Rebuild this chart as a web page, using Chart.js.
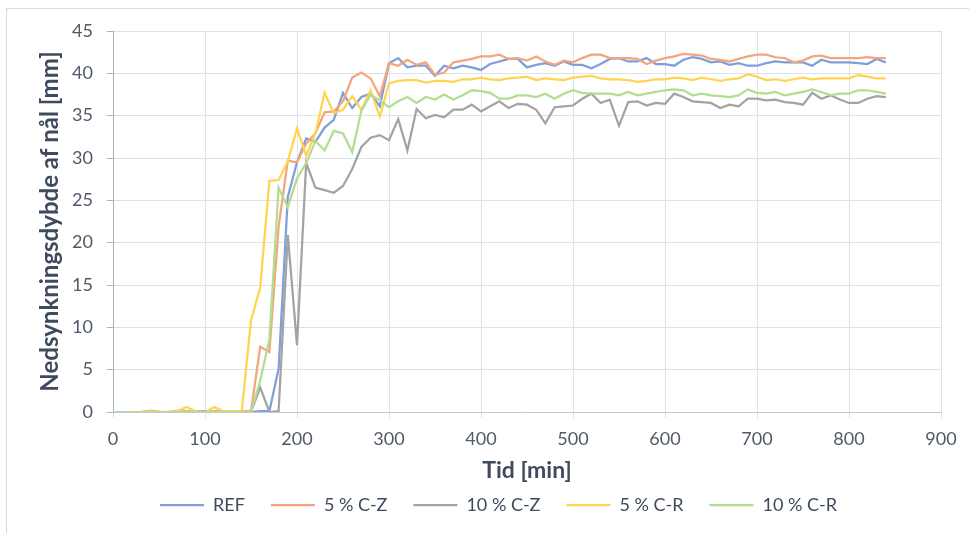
<!DOCTYPE html>
<html lang="da">
<head>
<meta charset="utf-8">
<title>Nedsynkningsdybde</title>
<script src="https://cdn.jsdelivr.net/npm/chart.js@4.4.1/dist/chart.umd.min.js"></script>
<style>
  html, body { margin: 0; padding: 0; background: #fff; overflow: hidden; }
  #wrap { position: relative; width: 969px; height: 533px; }
  #frame {
    position: absolute; left: 6px; top: 8px; width: 1200px; height: 800px;
    border: 1px solid #d9d9d9; pointer-events: none;
  }
  canvas { position: absolute; left: 0; top: 0; }
</style>
</head>
<body>
<div id="wrap">
  <div id="frame"></div>
  <canvas id="chart" width="969" height="533"></canvas>
</div>
<script>
// Tid [min]
const time = [
  0, 10, 20, 30, 40, 50, 60, 70, 80, 90, 100, 110, 120, 130, 140,
  150, 160, 170, 180, 190, 200, 210, 220, 230, 240,
  250, 260, 270, 280, 290, 300, 310, 320, 330, 340,
  350, 360, 370, 380, 390, 400, 410, 420, 430, 440,
  450, 460, 470, 480, 490, 500, 510, 520, 530, 540,
  550, 560, 570, 580, 590, 600, 610, 620, 630, 640,
  650, 660, 670, 680, 690, 700, 710, 720, 730, 740,
  750, 760, 770, 780, 790, 800, 810, 820, 830, 840
];

// Nedsynkningsdybde [mm] per blanding
const ref = [
  0, 0, 0, 0, 0, 0, 0, 0, 0, 0.1, 0.1, 0, 0, 0, 0,
  0, 0.1, 0.1, 5.1, 25.4, 29.5, 32.3, 31.9, 33.6, 34.5,
  37.7, 35.9, 37.2, 37.6, 36.1, 41.2, 41.8, 40.7, 40.9, 40.9,
  39.7, 40.9, 40.6, 40.9, 40.7, 40.4, 41.1, 41.4, 41.7, 41.7,
  40.7, 41.0, 41.2, 40.9, 41.4, 41.0, 41.0, 40.6, 41.1, 41.7,
  41.8, 41.4, 41.4, 41.8, 41.1, 41.1, 40.9, 41.6, 41.9, 41.7,
  41.3, 41.4, 41.0, 41.2, 40.9, 40.9, 41.2, 41.4, 41.3, 41.3,
  41.3, 40.9, 41.6, 41.3, 41.3, 41.3, 41.2, 41.1, 41.7, 41.3
];
const cz5 = [
  0, 0, 0, 0, 0.15, 0.05, 0, 0.15, 0.1, 0, 0, 0.1, 0.1, 0.1, 0.1,
  0.1, 7.7, 7.1, 21.9, 29.7, 29.5, 31.7, 32.9, 35.4, 35.5,
  36.7, 39.5, 40.1, 39.4, 37.3, 41.2, 40.9, 41.6, 41.0, 41.3,
  39.8, 40.1, 41.3, 41.5, 41.7, 42.0, 42.0, 42.2, 41.7, 41.8,
  41.5, 42.0, 41.4, 41.0, 41.5, 41.3, 41.8, 42.2, 42.2, 41.8,
  41.8, 41.8, 41.7, 41.1, 41.5, 41.8, 42.0, 42.3, 42.2, 42.1,
  41.7, 41.6, 41.4, 41.7, 42.0, 42.2, 42.2, 41.9, 41.8, 41.3,
  41.5, 42.0, 42.1, 41.8, 41.8, 41.8, 41.8, 41.9, 41.8, 41.8
];
const cz10 = [
  0, 0, 0, 0, 0, 0, 0, 0, 0, 0, 0, 0, 0, 0, 0,
  0, 2.9, 0, 0.1, 20.9, 7.9, 29.4, 26.5, 26.2, 25.9,
  26.7, 28.7, 31.3, 32.4, 32.7, 32.1, 34.6, 30.9, 35.8, 34.7,
  35.1, 34.8, 35.7, 35.7, 36.3, 35.5, 36.1, 36.7, 35.9, 36.4,
  36.3, 35.7, 34.1, 36.0, 36.1, 36.2, 37.0, 37.6, 36.5, 36.9,
  33.8, 36.6, 36.7, 36.2, 36.5, 36.4, 37.6, 37.2, 36.7, 36.6,
  36.5, 35.9, 36.3, 36.1, 37.0, 37.0, 36.8, 36.9, 36.6, 36.5,
  36.3, 37.7, 37.0, 37.4, 36.9, 36.5, 36.5, 37.0, 37.3, 37.2
];
const cr5 = [
  0, 0, 0, 0, 0.1, 0, 0, 0.1, 0.6, 0.1, 0, 0.6, 0.1, 0.1, 0.1,
  10.8, 14.7, 27.3, 27.4, 29.6, 33.5, 30.3, 32.9, 37.7, 35.3,
  35.7, 37.3, 35.7, 38.0, 34.9, 38.8, 39.1, 39.2, 39.2, 38.9,
  39.1, 39.1, 39.0, 39.3, 39.3, 39.5, 39.3, 39.2, 39.4, 39.5,
  39.6, 39.2, 39.4, 39.3, 39.2, 39.5, 39.6, 39.7, 39.4, 39.3,
  39.3, 39.2, 39.0, 39.1, 39.3, 39.3, 39.5, 39.4, 39.2, 39.5,
  39.3, 39.1, 39.3, 39.4, 39.9, 39.6, 39.2, 39.3, 39.1, 39.3,
  39.5, 39.3, 39.4, 39.4, 39.4, 39.4, 39.8, 39.6, 39.4, 39.4
];
const cr10 = [
  0, 0, 0, 0, 0, 0, 0, 0, 0, 0, 0, 0, 0, 0, 0,
  0, 3.7, 8.6, 26.5, 24.2, 27.6, 29.4, 32.0, 30.9, 33.2,
  32.9, 30.7, 35.6, 37.5, 36.8, 36.0, 36.7, 37.2, 36.5, 37.2,
  36.9, 37.5, 36.9, 37.4, 38.0, 37.9, 37.7, 37.0, 37.0, 37.4,
  37.4, 37.2, 37.6, 37.0, 37.6, 38.0, 37.7, 37.6, 37.6, 37.6,
  37.4, 37.8, 37.4, 37.6, 37.8, 38.0, 38.1, 38.0, 37.4, 37.6,
  37.4, 37.3, 37.2, 37.4, 38.1, 37.7, 37.6, 37.8, 37.4, 37.6,
  37.8, 38.1, 37.8, 37.4, 37.6, 37.6, 38.0, 38.0, 37.8, 37.6
];

const seriesNames = ['REF', '5 % C-Z', '10 % C-Z', '5 % C-R', '10 % C-R'];
const seriesValues = [ref, cz5, cz10, cr5, cr10];
const seriesColors = ['#7f9fdb', '#f4a57c', '#a3a3a3', '#ffd450', '#b4dd8e'];

const FONT = 'Lato, "Open Sans", sans-serif';
const TICK_COLOR = '#505a68';
const TITLE_COLOR = '#3f4b5c';
const GRID_COLOR = '#dde1e8';

const toPoints = values => time.map((t, i) => ({ x: t, y: values[i] }));

const datasets = seriesNames.map((name, i) => ({
    label: name,
    data: toPoints(seriesValues[i]),
    borderColor: seriesColors[i],
    backgroundColor: seriesColors[i],
    borderWidth: 2.25,
    pointRadius: 0,
    tension: 0,
    fill: false,
    // later series are painted on top
    order: seriesNames.length - i
}));

new Chart(document.getElementById('chart'), {
    type: 'line',
    data: { datasets },
    options: {
        responsive: false,
        animation: false,
        layout: { padding: { left: 28, top: 31, right: 0, bottom: 9 } },
        plugins: {
            tooltip: { enabled: false },
            legend: {
                position: 'bottom',
                labels: {
                    usePointStyle: true,
                    pointStyle: 'line',
                    pointStyleWidth: 44,
                    padding: 26,
                    color: TITLE_COLOR,
                    font: { family: FONT, size: 18 },
                    sort: (a, b) => a.datasetIndex - b.datasetIndex
                }
            }
        },
        scales: {
            x: {
                type: 'linear',
                min: 0,
                max: 900,
                ticks: { stepSize: 100, padding: 10, color: TICK_COLOR, font: { family: FONT, size: 18 } },
                grid: { color: GRID_COLOR, tickLength: 6, tickColor: GRID_COLOR },
                border: { color: '#c3cad6' },
                title: {
                    display: true,
                    text: 'Tid [min]',
                    color: TITLE_COLOR,
                    font: { family: FONT, size: 23, weight: 'bold' },
                    padding: { top: 0, bottom: -14 }
                },
                afterFit: scale => { scale.height = 58; }
            },
            y: {
                min: 0,
                max: 45,
                ticks: { stepSize: 5, padding: 14, color: TICK_COLOR, font: { family: FONT, size: 18 } },
                grid: { color: GRID_COLOR, tickLength: 6, tickColor: '#a9b3c3' },
                border: { color: '#a9b3c3' },
                title: {
                    display: true,
                    text: 'Nedsynkningsdybde af nål [mm]',
                    color: TITLE_COLOR,
                    font: { family: FONT, size: 24, weight: 'bold' },
                    padding: { top: 8, bottom: 0 }
                },
                afterFit: scale => { scale.width = 85; }
            },
            // empty strip on the right so the legend centres on the full chart width
            yRight: {
                position: 'right',
                ticks: { display: false },
                grid: { display: false, drawTicks: false },
                border: { display: false },
                afterFit: scale => { scale.width = 28; }
            }
        }
    }
});
</script>
</body>
</html>
